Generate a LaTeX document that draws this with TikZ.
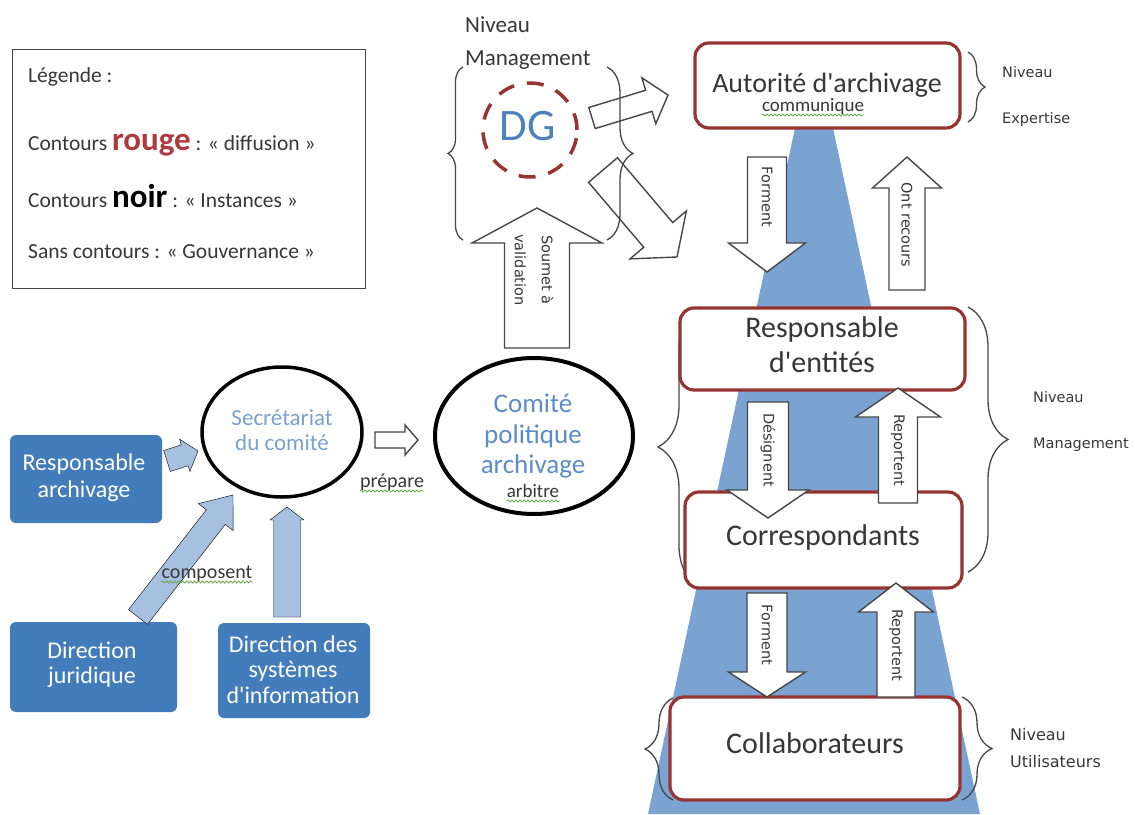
\documentclass[tikz,border=0pt]{standalone}
\usepackage{fontspec}
\setmainfont{Carlito}[Ligatures=TeXOff]
\newfontfamily\dejavu{DejaVu Sans}
\usetikzlibrary{calc,shapes.geometric,decorations.pathreplacing,decorations.pathmorphing}
\definecolor{boxred}{RGB}{150,52,50}
\definecolor{rougetxt}{RGB}{172,58,62}
\definecolor{beam}{RGB}{122,163,210}
\definecolor{bluefill}{RGB}{66,124,186}
\definecolor{lightarrow}{RGB}{168,192,224}
\definecolor{txt}{RGB}{55,55,55}
\definecolor{dgblue}{RGB}{79,129,189}
\definecolor{comblue}{RGB}{92,140,200}
\definecolor{secblue}{RGB}{122,160,205}
\definecolor{wavygreen}{RGB}{110,170,80}
\definecolor{outl}{RGB}{70,70,70}
\newcommand{\fs}[2]{\fontsize{#1}{#2}\selectfont}
% block arrow: [style] start, end, shaft half width, head half width, head length (pt)
\newcommand{\blockarrow}[6][]{%
  \draw[#1] ($(#2)!#4pt!90:(#3)$) -- ($(#3)!#6pt!(#2)!#4pt!-90:(#2)$)
    -- ($(#3)!#6pt!(#2)!#5pt!-90:(#2)$) -- (#3)
    -- ($(#3)!#6pt!(#2)!#5pt!90:(#2)$) -- ($(#3)!#6pt!(#2)!#4pt!90:(#2)$)
    -- ($(#2)!#4pt!-90:(#3)$) -- cycle;}
\begin{document}
\begin{tikzpicture}[x=1pt,y=-1pt,
  redbox/.style={draw=boxred, line width=3.2pt, rounded corners=14pt, fill=white, inner sep=0pt},
  bluebox/.style={fill=bluefill, rounded corners=6pt, inner sep=0pt},
  txtnode/.style={inner sep=0pt, text=txt},
  whitetxt/.style={inner sep=0pt, text=white, anchor=base, font=\fs{24}{24}},
  lbl/.style={inner sep=0pt, text=txt, rotate=-90, font=\dejavu\fs{14.5}{17}},
  side/.style={inner sep=0pt, anchor=base west, text=txt, font=\dejavu\fs{14.5}{17}},
  barrow/.style={draw=outl, line width=1.4pt, fill=white, line join=miter},
  openarrow/.style={draw=outl, line width=1.4pt, line join=miter},
  larrow/.style={fill=lightarrow},
  wav/.style={draw=wavygreen, line width=0.9pt, decorate, decoration={snake, amplitude=1pt, segment length=4pt}},
  cbrace/.style={draw=outl, line width=1.3pt, decorate, decoration={brace, amplitude=#1}},
]
\useasboundingbox (0,0) rectangle (1135,814);

% light beam
\fill[beam] (795,128) -- (833,128) -- (980,814) -- (648,814) -- cycle;

% braces
\draw[cbrace=15pt] (463,240) -- (463,67);
\draw[cbrace=26pt] (607,67) -- (607,240);
\draw[cbrace=17pt] (968,52) -- (968,122);
\draw[cbrace=42pt] (700,587) -- (700,307);
\draw[cbrace=40pt] (968,307) -- (968,572);
\draw[cbrace=28pt] (673,800) -- (673,698);
\draw[cbrace=30pt] (962,697) -- (962,800);

% legend
\node[draw=outl, line width=1.3pt, inner sep=0pt, minimum width=353pt, minimum height=239pt, anchor=north west] (legend) at (12,49) {};
\node[txtnode, anchor=base west, font=\fs{21.5}{21}] (leg1) at (28,82) {Légende :};
\node[txtnode, anchor=base west, font=\fs{21.5}{21}] (leg2) at (28,150) {Contours {\fs{33}{33}\bfseries\color{rougetxt}rouge} : « diffusion »};
\node[txtnode, anchor=base west, font=\fs{21.5}{21}] (leg3) at (28,207) {Contours {\fs{33}{33}\bfseries\color{black}noir} : « Instances »};
\node[txtnode, anchor=base west, font=\fs{21.5}{21}] (leg4) at (28,258) {Sans contours : « Gouvernance »};

% DG
\node[txtnode, anchor=base west, font=\fs{23}{23}] (nivm1) at (465,32) {Niveau};
\node[txtnode, anchor=base west, font=\fs{23}{23}] (nivm2) at (465,65) {Management};
\node[circle, draw=boxred, line width=3.5pt, dash pattern=on 17pt off 13pt, minimum size=94pt, inner sep=0pt] (dg) at (530,130) {};
\node[inner sep=0pt, anchor=base, text=dgblue, font=\fs{45}{45}] (dgt) at (528,140) {DG};

% red boxes
\node[redbox, minimum width=265pt, minimum height=85pt] (autor) at (827.5,85.5) {};
\node[redbox, minimum width=285pt, minimum height=82pt] (respent) at (822.5,349) {};
\node[redbox, minimum width=277pt, minimum height=96pt] (corr) at (823.5,540) {};
\node[redbox, minimum width=290pt, minimum height=103pt] (collab) at (815,748.5) {};

\node[txtnode, anchor=base, font=\fs{28}{28}] (autort) at (827,92) {Autorité d'archivage};
\node[txtnode, anchor=base, font=\fs{19}{19}] (commu) at (813,111) {communique};
\node[txtnode, anchor=base, font=\fs{30}{30}] (respt1) at (822,337) {Responsable};
\node[txtnode, anchor=base, font=\fs{30}{30}] (respt2) at (822,372) {d'entités};
\node[txtnode, anchor=base, font=\fs{30}{30}] (corrt) at (823,545) {Correspondants};
\node[txtnode, anchor=base, font=\fs{30}{30}] (collabt) at (815,753) {Collaborateurs};

% side labels
\node[side] (ne1) at (1002,77) {Niveau};
\node[side] (ne2) at (1002,123) {Expertise};
\node[side] (nm1) at (1033,402) {Niveau};
\node[side] (nm2) at (1033,448) {Management};
\node[side, font=\dejavu\fs{16}{17}] (nu1) at (1010,740) {Niveau};
\node[side, font=\dejavu\fs{16}{17}] (nu2) at (1010,767) {Utilisateurs};

% ellipses
\node[ellipse, draw=black, line width=3.5pt, minimum width=160pt, minimum height=130pt, inner sep=0pt] (secr) at (282,432) {};
\node[ellipse, draw=black, line width=4pt, minimum width=198pt, minimum height=156pt, inner sep=0pt] (comite) at (534,436) {};
\node[inner sep=0pt, anchor=base, text=secblue, font=\fs{23}{23}] (secr1) at (282,425) {Secrétariat};
\node[inner sep=0pt, anchor=base, text=secblue, font=\fs{23}{23}] (secr2) at (282,450) {du comité};
\node[inner sep=0pt, anchor=base, text=comblue, font=\fs{27}{27}] (com1) at (533,412) {Comité};
\node[inner sep=0pt, anchor=base, text=comblue, font=\fs{27}{27}] (com2) at (533,443) {politique};
\node[inner sep=0pt, anchor=base, text=comblue, font=\fs{27}{27}] (com3) at (533,473) {archivage};
\node[txtnode, anchor=base, font=\fs{19}{19}] (arbitre) at (533,497) {arbitre};

% blue boxes
\node[bluebox, minimum width=152pt, minimum height=88pt] (respar) at (86,479) {};
\node[bluebox, minimum width=167pt, minimum height=90pt] (dirjur) at (93.5,667) {};
\node[bluebox, minimum width=152pt, minimum height=95pt] (dsi) at (294,670.5) {};
\node[whitetxt] (respar1) at (84,470) {Responsable};
\node[whitetxt] (respar2) at (84,497) {archivage};
\node[whitetxt] (dirjur1) at (92,658) {Direction};
\node[whitetxt] (dirjur2) at (92,683) {juridique};
\node[whitetxt] (dsi1) at (293,652) {Direction des};
\node[whitetxt] (dsi2) at (293,677) {systèmes};
\node[whitetxt] (dsi3) at (293,703) {d'information};

% arrow coordinates
\coordinate (a1s) at (592,118); \coordinate (a1e) at (668,95);
\coordinate (a2s) at (603,170); \coordinate (a2e) at (677,257);
\coordinate (sous) at (537,348); \coordinate (soue) at (537,208);
\coordinate (f1s) at (767,157); \coordinate (f1e) at (767,272);
\coordinate (ors) at (907,290); \coordinate (ore) at (907,157);
\coordinate (dss) at (768,402); \coordinate (dse) at (768,518);
\coordinate (r1s) at (898,503); \coordinate (r1e) at (898,388);
\coordinate (f2s) at (767,593); \coordinate (f2e) at (767,697);
\coordinate (r2s) at (896,697); \coordinate (r2e) at (896,583);
\coordinate (prs) at (375,440); \coordinate (pre) at (418,440);
\coordinate (l1s) at (167,461); \coordinate (l1e) at (198,451);
\coordinate (l2s) at (138,617); \coordinate (l2e) at (233,495);
\coordinate (l3s) at (287,617); \coordinate (l3e) at (287,507);

% light blue arrows
\blockarrow[larrow]{l1s}{l1e}{11}{17}{14}
\blockarrow[larrow]{l2s}{l2e}{12}{22}{28}
\blockarrow[larrow]{l3s}{l3e}{13.5}{17}{13}

% outlined arrows
\blockarrow[openarrow]{a1s}{a1e}{11}{24}{20}
\blockarrow[openarrow]{a2s}{a2e}{19}{37}{29}
\blockarrow[barrow]{sous}{soue}{32.5}{65}{35}
\blockarrow[barrow]{f1s}{f1e}{19.5}{38.5}{29}
\blockarrow[barrow]{ors}{ore}{18}{34.5}{31}
\blockarrow[barrow]{dss}{dse}{20.5}{41}{28}
\blockarrow[barrow]{r1s}{r1e}{19.5}{42.5}{29}
\blockarrow[barrow]{f2s}{f2e}{20}{38.5}{25}
\blockarrow[barrow]{r2s}{r2e}{19}{37.5}{29}
\blockarrow[barrow]{prs}{pre}{8}{15}{13}

% arrow labels
\node[lbl, align=center, font=\dejavu\fs{14.5}{27}] (soumet) at (534,270) {Soumet à\\validation};
\node[lbl] (forment1) at (767,197) {Forment};
\node[lbl] (ontrec) at (907,225) {Ont recours};
\node[lbl] (designent) at (768,450) {Désignent};
\node[lbl] (reportent1) at (898,450) {Reportent};
\node[lbl] (forment2) at (767,635) {Forment};
\node[lbl] (reportent2) at (896,645) {Reportent};

\node[txtnode, anchor=base, font=\fs{20}{20}] (compo) at (207,578) {composent};
\node[txtnode, anchor=base, font=\fs{20}{20}] (prep) at (392,487) {prépare};

% spell-check underlines
\foreach \n in {commu,arbitre,compo,prep}
  \draw[wav] ($(\n.base west)+(0,4)$) -- ($(\n.base east)+(0,4)$);
\end{tikzpicture}
\end{document}
